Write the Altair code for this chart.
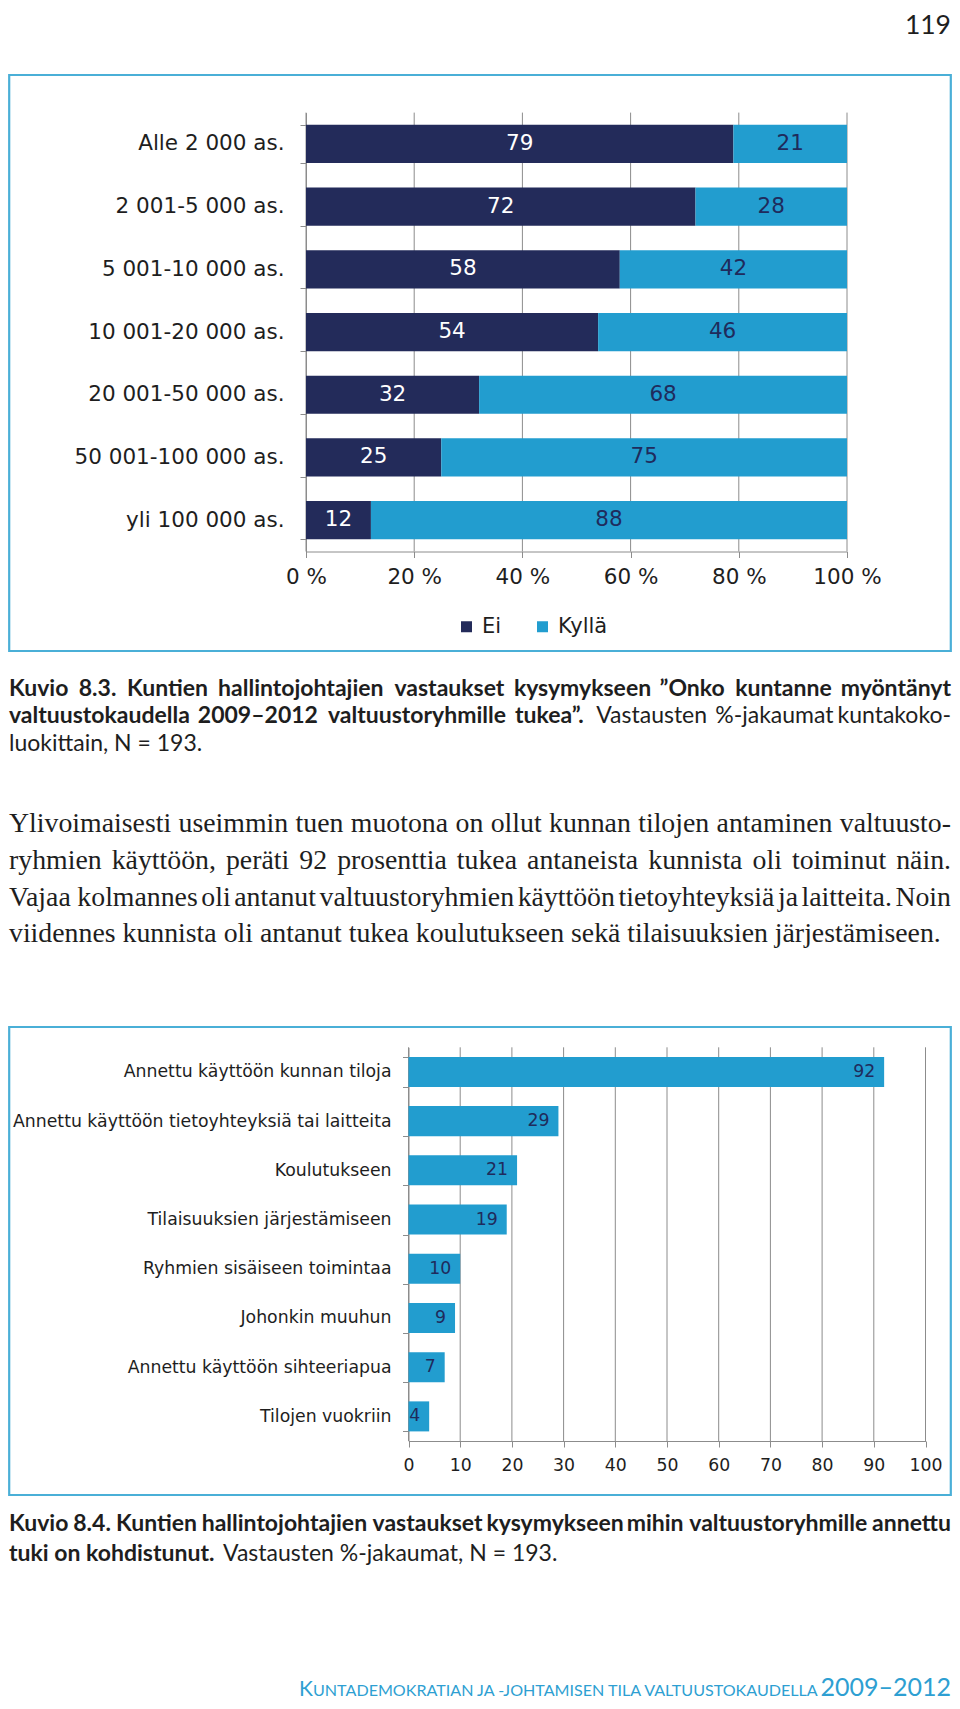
import altair as alt
import pandas as pd

# ---------------- data ----------------
size_classes = ["Alle 2 000 as.", "2 001-5 000 as.", "5 001-10 000 as.", "10 001-20 000 as.",
                "20 001-50 000 as.", "50 001-100 000 as.", "yli 100 000 as."]
ei_values = [79, 72, 58, 54, 32, 25, 12]
kylla_values = [21, 28, 42, 46, 68, 75, 88]
answers = ["Ei", "Kyllä"]
pct_ticks = [0, 20, 40, 60, 80, 100]

support_types = ["Annettu käyttöön kunnan tiloja", "Annettu käyttöön tietoyhteyksiä tai laitteita",
                 "Koulutukseen", "Tilaisuuksien järjestämiseen", "Ryhmien sisäiseen toimintaa",
                 "Johonkin muuhun", "Annettu käyttöön sihteeriapua", "Tilojen vuokriin"]
support_values = [92, 29, 21, 19, 10, 9, 7, 4]
num_ticks = [0, 10, 20, 30, 40, 50, 60, 70, 80, 90, 100]

# ---------------- style ----------------
NAVY = "#232B5A"
BLUE = "#229DCF"
NAVY_T = "#1F2B5C"
FRAME = "#4AAFD7"
GRID = "#8C8C8C"
TEXT = "#1E1E1E"
FOOT = "#2E9FD2"
CF = "DejaVu Sans"
SF = "Lato"
PF = "Liberation Serif"

M = 8
W, H = 960 - 2 * M, 1709 - 2 * M
LEFT_EDGE, RIGHT_EDGE = 9, 951


def X(v):
    return v - M


def Y(v):
    return v - M


# ---------------- chart 1 ----------------
rows = []
for cat, e, k in zip(size_classes, ei_values, kylla_values):
    rows.append(dict(cat=cat, answer="Ei", value=e, start=0, end=e, mid=e / 2))
    rows.append(dict(cat=cat, answer="Kyllä", value=k, start=e, end=e + k, mid=e + k / 2))
df1 = pd.DataFrame(rows)

C1_TOP, C1_BOT, C1_L, C1_R = 112.6, 551.5, 306, 847
x1 = alt.Scale(domain=[0, 100], range=[X(C1_L), X(C1_R)], nice=False)
y1 = alt.Scale(domain=size_classes, range=[Y(C1_TOP), Y(C1_BOT)], paddingInner=0.39, paddingOuter=0.195)
ax_y1 = alt.Axis(orient="left", offset=-X(C1_L), title=None, grid=False, domainColor=GRID, tickColor=GRID,
                 tickSize=6, tickBand="extent", labelFont=CF, labelFontSize=21.5, labelColor=TEXT,
                 labelPadding=16, labelLimit=500)
ax_x1 = alt.Axis(orient="bottom", offset=Y(C1_BOT) - H, title=None, grid=False, values=pct_ticks,
                 labelExpr="datum.value + ' %'", domainColor=GRID, tickColor=GRID, tickSize=6,
                 labelFont=CF, labelFontSize=21.5, labelColor=TEXT, labelPadding=9,
                 labelFlush=False, labelOverlap=False)
leg1 = alt.Legend(title=None, orient="none", legendX=X(456), legendY=Y(616), direction="horizontal",
                  symbolType="square", symbolSize=121, symbolStrokeWidth=0, labelFont=CF,
                  labelFontSize=21, labelColor=TEXT, labelOffset=5, columnPadding=30, padding=0)

grid1 = alt.Chart(pd.DataFrame({"t": pct_ticks})).mark_rule(color=GRID, strokeWidth=1).encode(
    x=alt.X("t:Q", scale=x1, axis=ax_x1), y=alt.value(Y(C1_TOP)), y2=alt.value(Y(C1_BOT)))
bars1 = alt.Chart(df1).mark_bar().encode(
    y=alt.Y("cat:N", scale=y1, axis=ax_y1),
    x=alt.X("start:Q", scale=x1, axis=ax_x1),
    x2="end:Q",
    color=alt.Color("answer:N", scale=alt.Scale(domain=answers, range=[NAVY, BLUE]), legend=leg1),
)
labels1 = alt.Chart(df1).mark_text(font=CF, fontSize=21.5, baseline="middle").encode(
    y=alt.Y("cat:N", scale=y1, axis=ax_y1),
    x=alt.X("mid:Q", scale=x1, axis=ax_x1),
    text="value:Q",
    color=alt.condition("datum.answer == 'Ei'", alt.value("white"), alt.value(NAVY_T)),
)
chart1 = alt.layer(grid1, bars1, labels1)

# ---------------- chart 2 ----------------
df2 = pd.DataFrame({"cat": support_types, "value": support_values})
C2_TOP, C2_BOT, C2_L, C2_R = 1047.3, 1441, 408.5, 925.5
x2s = alt.Scale(domain=[0, 100], range=[X(C2_L), X(C2_R)], nice=False)
y2s = alt.Scale(domain=support_types, range=[Y(C2_TOP), Y(C2_BOT)], paddingInner=0.39, paddingOuter=0.195)
ax_y2 = alt.Axis(orient="left", offset=-X(C2_L), title=None, grid=False, domainColor=GRID, tickColor=GRID,
                 tickSize=6, tickBand="extent", labelFont=CF, labelFontSize=17.3, labelColor=TEXT,
                 labelPadding=11.5, labelLimit=600)
ax_x2 = alt.Axis(orient="bottom", offset=Y(C2_BOT) - H, title=None, grid=False, values=num_ticks,
                 domainColor=GRID, tickColor=GRID, tickSize=6, labelFont=CF, labelFontSize=17.3,
                 labelColor=TEXT, labelPadding=9, labelFlush=False, labelOverlap=False)

grid2 = alt.Chart(pd.DataFrame({"t": num_ticks})).mark_rule(color=GRID, strokeWidth=1).encode(
    x=alt.X("t:Q", scale=x2s, axis=ax_x2), y=alt.value(Y(C2_TOP)), y2=alt.value(Y(C2_BOT)))
bars2 = alt.Chart(df2).mark_bar(color=BLUE).encode(
    y=alt.Y("cat:N", scale=y2s, axis=ax_y2),
    x=alt.X("value:Q", scale=x2s, axis=ax_x2),
)
labels2 = alt.Chart(df2).mark_text(font=CF, fontSize=17.3, baseline="middle", align="right", dx=-9,
                                   color=NAVY_T).encode(
    y=alt.Y("cat:N", scale=y2s, axis=ax_y2),
    x=alt.X("value:Q", scale=x2s, axis=ax_x2),
    text="value:Q",
)
chart2 = alt.layer(grid2, bars2, labels2)

# ---------------- page texts ----------------
one = pd.DataFrame({"_": [0]})


def txt(s, x, y, size, font=SF, weight="normal", color=TEXT, align="left"):
    return alt.Chart(one).mark_text(text=s, font=font, fontSize=size, fontWeight=weight, color=color,
                                    align=align, baseline="alphabetic").encode(
        x=alt.value(X(x)), y=alt.value(Y(y)))


def frame(x0, x1_, y0, y1_):
    return alt.Chart(one).mark_rect(fillOpacity=0, stroke=FRAME, strokeWidth=2.2).encode(
        x=alt.value(X(x0)), x2=alt.value(X(x1_)), y=alt.value(Y(y0)), y2=alt.value(Y(y1_)))


# approximate advance widths (per 1000 em), used only to justify text lines
TIMES = {" ": 250, "a": 444, "b": 500, "c": 444, "d": 500, "e": 444, "f": 333, "g": 500, "h": 500,
         "i": 278, "j": 278, "k": 500, "l": 278, "m": 778, "n": 500, "o": 500, "p": 500, "q": 500,
         "r": 333, "s": 389, "t": 278, "u": 500, "v": 500, "w": 722, "x": 500, "y": 500, "z": 444,
         "ä": 444, "ö": 500, ",": 250, ".": 250, "-": 333, "Y": 722, "V": 722, "N": 722}
LATO = {" ": 193, "a": 502, "b": 554, "c": 452, "d": 554, "e": 518, "f": 326, "g": 495, "h": 553,
        "i": 262, "j": 262, "k": 510, "l": 262, "m": 830, "n": 553, "o": 557, "p": 549, "r": 382,
        "s": 425, "t": 372, "u": 553, "v": 512, "y": 512, "ä": 502, "ö": 557, "K": 645, "O": 750,
        "N": 740, "V": 686, ".": 218, ",": 218, "-": 345, "%": 820, "”": 420, "–": 580, "=": 580}
LATO_CAL = 1.0


def tw(word, fs, table, dflt):
    return sum(table.get(ch, dflt) for ch in word) * fs / 1000.0


def lw(word, fs, bold):
    w = tw(word, fs, LATO, 580) * LATO_CAL
    return w if bold else w * 0.965


# calibrate the sans widths against the natural width measured for caption 8.4's first line at 21px
_ref_line = "Kuvio 8.4. Kuntien hallintojohtajien vastaukset kysymykseen mihin valtuustoryhmille annettu"
LATO_CAL = 848.0 / lw(_ref_line, 21, True)


def justify(words, y, fs, font, widths, weights):
    gap = (RIGHT_EDGE - LEFT_EDGE - sum(widths)) / (len(words) - 1)
    out, xpos = [], LEFT_EDGE
    for i, (w, wd, wt) in enumerate(zip(words, widths, weights)):
        if i == len(words) - 1:
            out.append(txt(w, RIGHT_EDGE, y, fs, font=font, weight=wt, align="right"))
        else:
            out.append(txt(w, xpos, y, fs, font=font, weight=wt))
        xpos += wd + gap
    return out


def justified_serif(line, y, fs):
    words = line.split()
    return justify(words, y, fs, PF, [tw(w, fs, TIMES, 500) for w in words], ["normal"] * len(words))


def justified_sans(bold_part, regular_part, y, fs):
    bw = bold_part.split()
    rw = regular_part.split()
    words = bw + rw
    widths = [lw(w, fs, True) for w in bw] + [lw(w, fs, False) for w in rw]
    weights = ["bold"] * len(bw) + ["normal"] * len(rw)
    return justify(words, y, fs, SF, widths, weights)


CAP = 23
PFS = 27.8
texts = [txt("119", RIGHT_EDGE, 34, 26.5, align="right")]
# caption 8.3
texts += justified_sans("Kuvio 8.3. Kuntien hallintojohtajien vastaukset kysymykseen ”Onko kuntanne myöntänyt",
                        "", 695.5, CAP)
texts += justified_sans("valtuustokaudella 2009–2012 valtuustoryhmille tukea”.",
                        "Vastausten %-jakaumat kuntakoko-", 723, CAP)
texts.append(txt("luokittain,  N = 193.", LEFT_EDGE, 750.5, CAP))
# body paragraph
texts += justified_serif("Ylivoimaisesti useimmin tuen muotona on ollut kunnan tilojen antaminen valtuusto-",
                         831.6, PFS)
texts += justified_serif("ryhmien käyttöön, peräti 92 prosenttia tukea antaneista kunnista oli toiminut näin.",
                         868.6, PFS)
texts += justified_serif("Vajaa kolmannes oli antanut valtuustoryhmien käyttöön tietoyhteyksiä ja laitteita. Noin",
                         905.6, PFS)
texts.append(txt("viidennes kunnista oli antanut tukea koulutukseen sekä tilaisuuksien järjestämiseen.",
                 LEFT_EDGE, 941.6, PFS, font=PF))
# caption 8.4
texts += justified_sans(_ref_line, "", 1531, CAP)
texts += [
    txt("tuki on kohdistunut.", LEFT_EDGE, 1560.5, CAP, weight="bold"),
    txt("Vastausten %-jakaumat,  N = 193.", 223, 1560.5, CAP),
]
# running footer (small caps)
FOOT_Y = 1696
texts += [
    txt("K", 299, FOOT_Y, 21, color=FOOT),
    txt("UNTADEMOKRATIAN JA -JOHTAMISEN TILA VALTUUSTOKAUDELLA", 313, FOOT_Y, 16.1, color=FOOT),
    txt("2009–2012", RIGHT_EDGE, FOOT_Y, 25, color=FOOT, align="right"),
]

frames = [frame(9.2, 950.8, 75, 651), frame(9.2, 950.8, 1027, 1495)]

chart = alt.layer(chart1, chart2, *frames, *texts).resolve_scale(
    x="independent", y="independent", color="independent"
).properties(
    width=W, height=H, padding=0, autosize=alt.AutoSizeParams(type="none"), background="white"
).configure_view(stroke=None)

chart.save("out.html", embed_options={"renderer": "svg", "actions": False})
